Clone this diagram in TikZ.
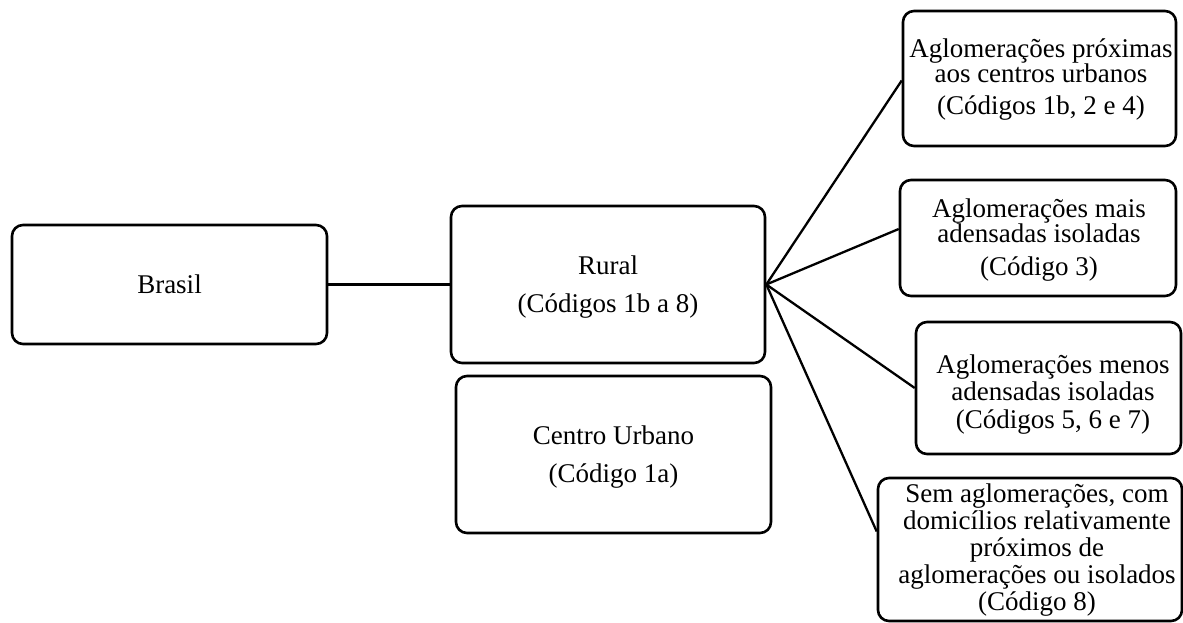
\documentclass[tikz,border=0pt]{standalone}
\usepackage{fontspec}
\setmainfont{Liberation Serif}
\begin{document}
\begin{tikzpicture}[x=1pt,y=-1pt,
  box/.style={draw=black, line width=2.6pt, rounded corners=11pt, rectangle, inner sep=0pt},
  txt/.style={anchor=base, align=center, inner sep=0pt, font=\fontsize{27}{26.8}\selectfont},
  link/.style={draw=black, line width=2.3pt}]
\useasboundingbox (0,0) rectangle (1183,623);
% boxes
\node[box, minimum width=315pt, minimum height=119pt] (brasil) at (169.5,284.5) {};
\node[box, minimum width=314pt, minimum height=157pt] (rural) at (608,284.5) {};
\node[box, minimum width=315pt, minimum height=157pt] (centro) at (613.5,454.5) {};
\node[box, minimum width=273pt, minimum height=135pt] (b1) at (1039.5,78.5) {};
\node[box, minimum width=276pt, minimum height=116pt] (b2) at (1038,238) {};
\node[box, minimum width=265pt, minimum height=132pt] (b3) at (1048.5,388) {};
\node[box, minimum width=304pt, minimum height=143pt] (b4) at (1030,549.5) {};
% texts (anchored at the baseline of the last line)
\node[txt] (tbrasil) at (169.5,293) {Brasil};
\node[txt] (trural) at (608,312) {Rural\\[11pt](Códigos 1b a 8)};
\node[txt] (tcentro) at (613.5,482) {Centro Urbano\\[11pt](Código 1a)};
\node[txt] (t1) at (1041,115) {Aglomerações próximas\\[-2pt]aos centros urbanos\\[6pt](Códigos 1b, 2 e 4)};
\node[txt] (t2) at (1039,275) {Aglomerações mais\\[-2pt]adensadas isoladas\\[6pt](Código 3)};
\node[txt] (t3) at (1053,428) {Aglomerações menos\\adensadas isoladas\\[1pt](Códigos 5, 6 e 7)};
\node[txt] (t4) at (1037,610) {Sem aglomerações, com\\domicílios relativamente\\próximos de\\aglomerações ou isolados\\(Código 8)};
% connectors
\draw[link] (brasil.east) -- (rural.west);
\draw[link] (rural.east) -- ([yshift=-2pt]b1.west);
\draw[link] (rural.east) -- ([yshift=9pt]b2.west);
\draw[link] (rural.east) -- (b3.west);
\draw[link] (rural.east) -- ([yshift=18pt]b4.west);
\end{tikzpicture}
\end{document}
